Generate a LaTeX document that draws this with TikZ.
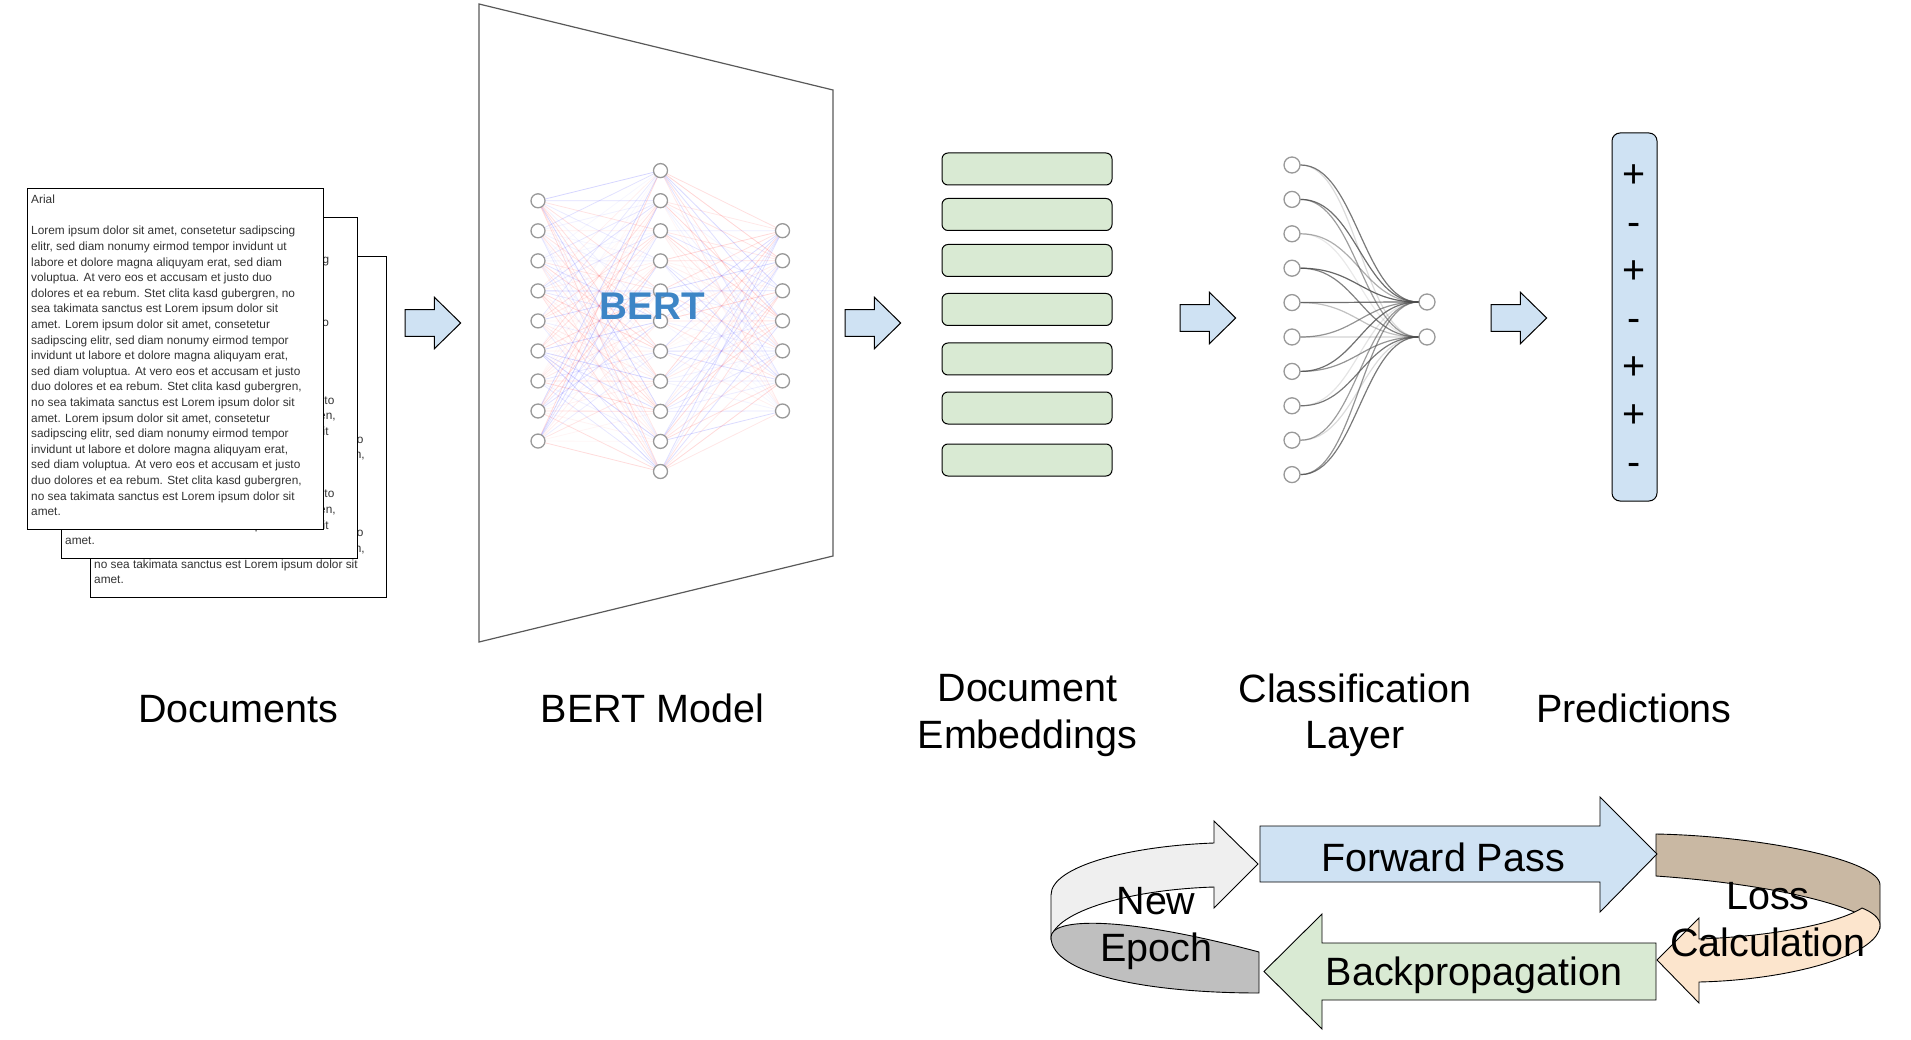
\documentclass[tikz,border=0pt]{standalone}
\usepackage{fontspec}
\setmainfont{Liberation Sans}
\usepackage{xcolor}
\usepackage{tikz}
\usetikzlibrary{calc}

\definecolor{arrowblue}{HTML}{CFE2F3}
\definecolor{embgreen}{HTML}{D9EAD3}
\definecolor{bertblue}{HTML}{3D85C6}
\definecolor{neurongray}{HTML}{999999}
\definecolor{epochlight}{HTML}{EFEFEF}
\definecolor{epochdark}{HTML}{BFBFBF}
\definecolor{losstan}{RGB}{201,184,163}
\definecolor{losspeach}{HTML}{FCE5CD}
\definecolor{wred}{RGB}{255,40,40}
\definecolor{wblue}{RGB}{40,40,255}

\pgfmathdeclarerandomlist{wcols}{{wred}{wblue}}

\newcommand{\docpara}{Arial\\[15.6pt]
Lorem ipsum dolor sit amet, consetetur sadipscing\\
elitr, sed diam nonumy eirmod tempor invidunt ut\\
labore et dolore magna aliquyam erat, sed diam\\
voluptua. At vero eos et accusam et justo duo\\
dolores et ea rebum. Stet clita kasd gubergren, no\\
sea takimata sanctus est Lorem ipsum dolor sit\\
amet. Lorem ipsum dolor sit amet, consetetur\\
sadipscing elitr, sed diam nonumy eirmod tempor\\
invidunt ut labore et dolore magna aliquyam erat,\\
sed diam voluptua. At vero eos et accusam et justo\\
duo dolores et ea rebum. Stet clita kasd gubergren,\\
no sea takimata sanctus est Lorem ipsum dolor sit\\
amet. Lorem ipsum dolor sit amet, consetetur\\
sadipscing elitr, sed diam nonumy eirmod tempor\\
invidunt ut labore et dolore magna aliquyam erat,\\
sed diam voluptua. At vero eos et accusam et justo\\
duo dolores et ea rebum. Stet clita kasd gubergren,\\
no sea takimata sanctus est Lorem ipsum dolor sit\\
amet.}

\tikzset{
  page/.style={draw=black, line width=1.1pt, fill=white, minimum width=296pt, minimum height=341pt, inner sep=0pt, anchor=north west},
  pagetext/.style={anchor=north west, inner sep=0pt, text=black!80, font=\fontsize{11.85}{15.6}\selectfont, align=left},
  neuron/.style={circle, draw=neurongray, line width=1.3pt, fill=white, minimum size=14pt, inner sep=0pt},
  cnode/.style={circle, draw=neurongray, line width=1.3pt, fill=white, minimum size=16pt, inner sep=0pt},
  synapse/.style={draw=black!70, line width=1.2pt},
  embbox/.style={draw=black, fill=embgreen, rounded corners=6pt, minimum width=170pt, minimum height=32pt, line width=1pt},
  predbox/.style={draw=black, fill=arrowblue, rounded corners=8pt, minimum width=45pt, minimum height=368pt, line width=1pt},
  blockarrow/.style={draw=black, fill=arrowblue, line width=1pt},
  loopline/.style={draw=black, line width=0.9pt},
  biglabel/.style={font=\fontsize{39.5}{46.5}\selectfont, align=center, inner sep=0pt},
}

\begin{document}
\begin{tikzpicture}[x=1pt,y=1pt,yscale=-1]
  \useasboundingbox (0,0) rectangle (1911,1040);

  %Documents: three sheets, back to front
  \node[page] (doc3) at (90,256) {};
  \node[pagetext] (doc3txt) at (94,263) {\docpara};
  \node[page] (doc2) at (61,217) {};
  \node[pagetext] (doc2txt) at (65,224) {\docpara};
  \node[page] (doc1) at (27,188) {};
  \node[pagetext] (doc1txt) at (31,195) {\docpara};

  %Shape: Trapezoid [BERT frame]
  \draw [draw=black!65, line width=1.2pt] (479,4) -- (833,90) -- (833,556) -- (479,642) -- cycle;

  %BERT neurons
  \foreach \i in {1,...,9}
    \node[neuron] (bl\i) at (538,{200.8+30.03*(\i-1)}) {};
  \foreach \j in {1,...,11}
    \node[neuron] (bm\j) at (660.5,{170.6+30.09*(\j-1)}) {};
  \foreach \k in {1,...,7}
    \node[neuron] (br\k) at (782.5,{230.7+30.05*(\k-1)}) {};

  %BERT weights
  \pgfmathsetseed{11}
  \foreach \i in {1,...,9}{
    \foreach \j in {1,...,11}{
      \pgfmathrandomitem{\wc}{wcols}
      \pgfmathsetmacro{\wo}{0.03+0.17*rnd}
      \draw [color=\wc, opacity=\wo, line width=0.8pt] (bl\i) -- (bm\j);
    }
  }
  \foreach \j in {1,...,11}{
    \foreach \k in {1,...,7}{
      \pgfmathrandomitem{\wc}{wcols}
      \pgfmathsetmacro{\wo}{0.03+0.17*rnd}
      \draw [color=\wc, opacity=\wo, line width=0.8pt] (bm\j) -- (br\k);
    }
  }

  % Text Node
  \node [anchor=base, inner sep=0pt, text=bertblue, font=\fontsize{38.6}{40}\selectfont\bfseries] (berttxt) at (652.5,319.3) {BERT};

  %Shape: Right Arrows between stages
  \foreach \ax/\ay in {405/323, 845/323, 1180/318, 1491/318}
    \draw [blockarrow] (\ax,\ay) ++(0,-13.3) -- ++(29.3,0) -- ++(0,-12.5) -- ++(26.4,25.8) -- ++(-26.4,25.8) -- ++(0,-12.5) -- ++(-29.3,0) -- cycle;

  %Document embeddings
  \foreach \n/\yy in {1/169, 2/214.5, 3/260.5, 4/309.5, 5/359, 6/408, 7/460}
    \node[embbox] (emb\n) at (1027,\yy) {};

  %Classification layer
  \foreach \i in {1,...,10}
    \node[cnode] (cl\i) at (1292,{165+34.4*(\i-1)}) {};
  \node[cnode] (co1) at (1427,302) {};
  \node[cnode] (co2) at (1427,337) {};
  \foreach \i/\pa/\pb in {1/0.75/0.2, 2/0.8/0.55, 3/0.45/0.12, 4/0.85/0.7, 5/0.8/0.35, 6/0.6/0.25, 7/0.8/0.6, 8/0.15/0.75, 9/0.55/0.2, 10/0.6/0.75}{
    \draw [synapse, opacity=\pa] (cl\i.east) .. controls +(55,0) and +(-55,0) .. (co1.west);
    \draw [synapse, opacity=\pb] (cl\i.east) .. controls +(55,0) and +(-55,0) .. (co2.west);
  }

  %Predictions
  \node[predbox] (pred) at (1634.5,317) {};
  \foreach \s [count=\k] in {+,-,+,-,+,+,-}
    \node [anchor=base, inner sep=0pt, font=\fontsize{39.5}{40}\selectfont] (ps\k) at (1634.5,{188+47.9*(\k-1)}) {\s};

  % Text Node
  \node[biglabel, anchor=base] (lbldoc) at (238,722) {Documents};
  \node[biglabel, anchor=base] (lblbert) at (652.5,722) {BERT Model};
  \node[biglabel] (lblemb) at (1027.5,715.4) {Document\\Embeddings};
  \node[biglabel] (lblcls) at (1355,715.4) {Classification\\Layer};
  \node[biglabel, anchor=base] (lblpred) at (1634,722) {Predictions};

  %Curve Lines: New Epoch loop, back then front
  \draw [loopline, fill=epochlight] (1214,843) .. controls (1130,846) and (1051,866) .. (1051,895) -- (1051,940) .. controls (1051,915) and (1120,890) .. (1214,887) -- (1214,908) -- (1258,864) -- (1214,821) -- cycle;
  \draw [loopline, fill=epochdark] (1051,937) .. controls (1051,918) and (1120,915) .. (1259,952) -- (1259,993) .. controls (1150,993) and (1051,975) .. (1051,937) -- cycle;

  %Curve Lines: Loss loop, back then front
  \draw [loopline, fill=losstan] (1656,834) .. controls (1760,836) and (1880,860) .. (1880,885) -- (1880,928) .. controls (1860,905) and (1770,884) .. (1656,876) -- cycle;
  \draw [loopline, fill=losspeach] (1699,939) .. controls (1780,936) and (1840,922) .. (1862,908) .. controls (1872,912) and (1880,918) .. (1880,925) .. controls (1880,955) and (1790,980) .. (1699,982) -- (1699,1003) -- (1657,960) -- (1699,918) -- cycle;

  %Shape: Right Arrow [forward pass]
  \draw [loopline, fill=arrowblue] (1260,826) -- (1600,826) -- (1600,797) -- (1657,854) -- (1600,912) -- (1600,882) -- (1260,882) -- cycle;
  %Shape: Left Arrow [backpropagation]
  \draw [loopline, fill=embgreen] (1656,943) -- (1322,943) -- (1322,914) -- (1264,971.5) -- (1322,1029) -- (1322,1000) -- (1656,1000) -- cycle;

  % Text Node
  \node[biglabel, anchor=base] (fwdtxt) at (1443,871) {Forward Pass};
  \node[biglabel, anchor=base] (backtxt) at (1474,985) {Backpropagation};
  \node[biglabel] (epochtxt) at (1156,928.3) {New\\Epoch};
  \node[biglabel] (losstxt) at (1768,919.4) {Loss\\Calculation};
\end{tikzpicture}
\end{document}
